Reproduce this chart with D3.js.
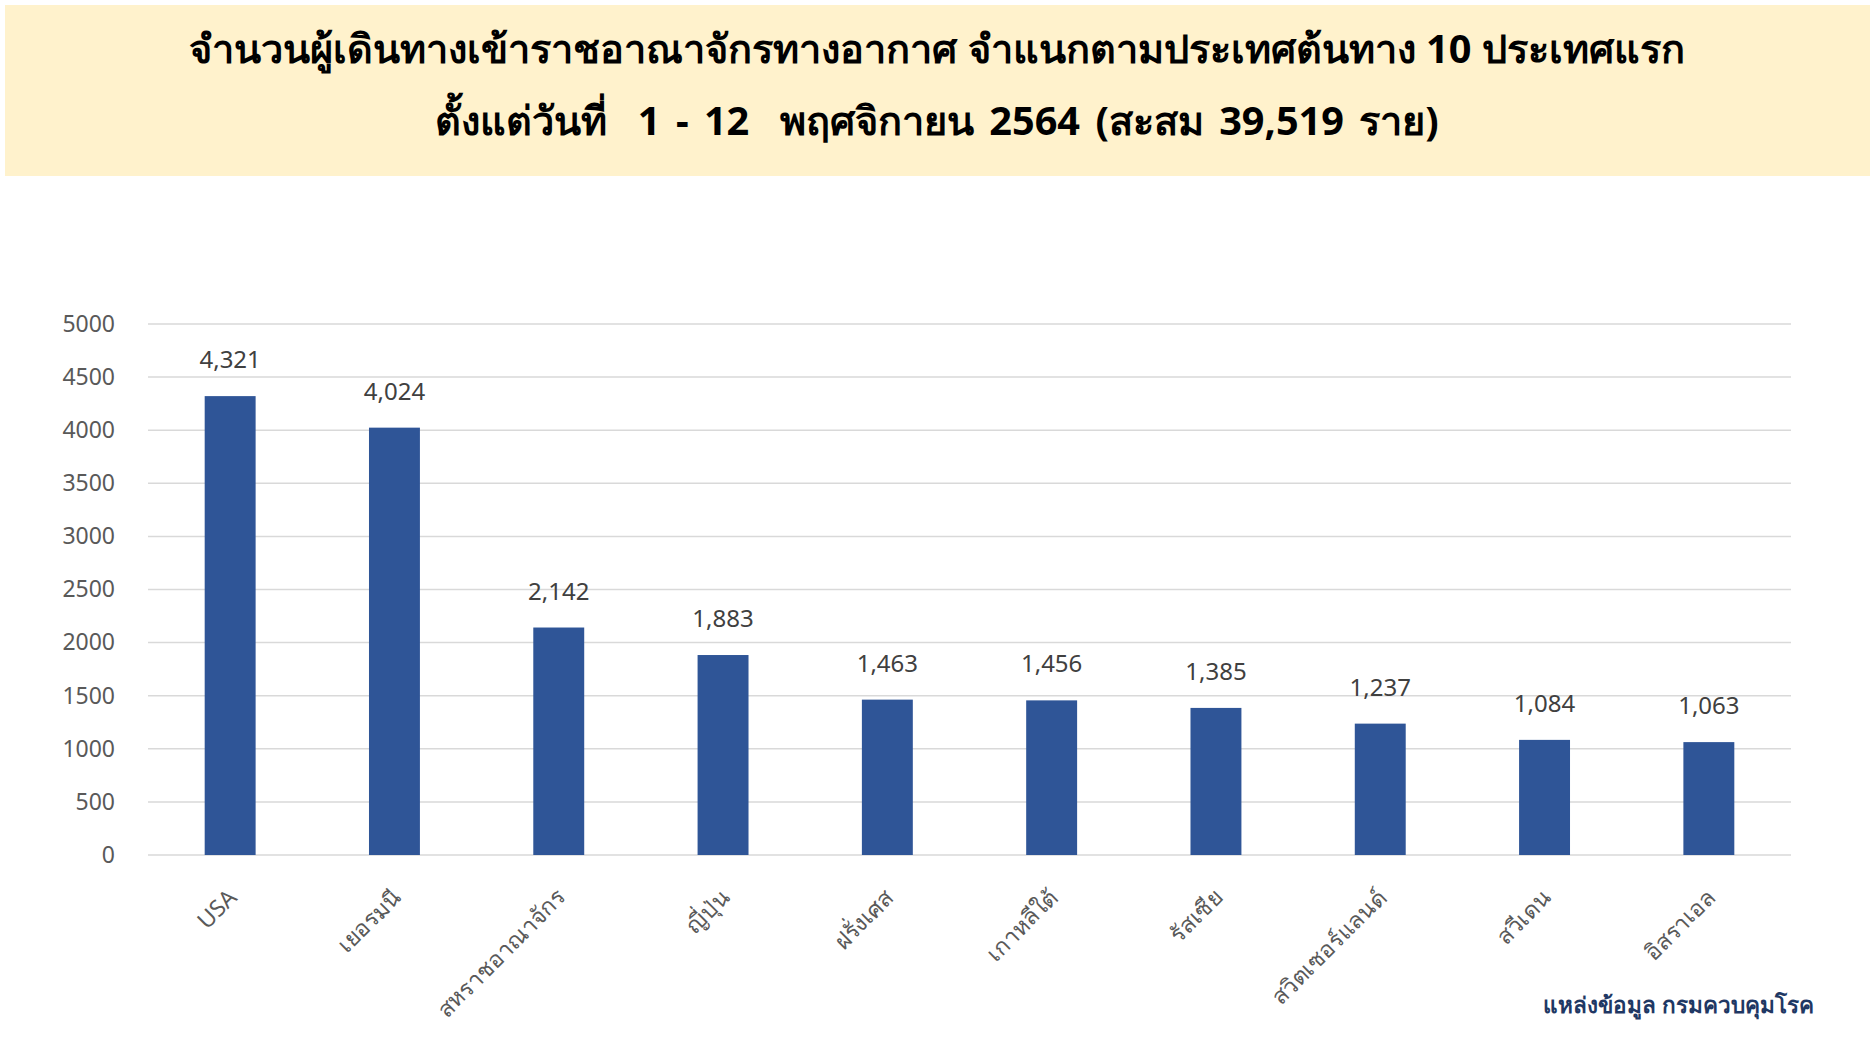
<!DOCTYPE html>
<html>
<head>
<meta charset="utf-8">
<script src="https://cdn.jsdelivr.net/npm/d3@7"></script>
<style>
  body { margin: 0; background: #fff; }
  text { font-family: "Noto Sans", "DejaVu Sans", sans-serif; white-space: pre; }
</style>
</head>
<body>
<svg id="chart" width="1875" height="1055"></svg>
<script>
// data
var countries = ["USA", "เยอรมนี", "สหราชอาณาจักร", "ญี่ปุ่น", "ฝรั่งเศส",
                 "เกาหลีใต้", "รัสเซีย", "สวิตเซอร์แลนด์", "สวีเดน", "อิสราเอล"];
var passengers = [4321, 4024, 2142, 1883, 1463, 1456, 1385, 1237, 1084, 1063];
var yTicks = [0, 500, 1000, 1500, 2000, 2500, 3000, 3500, 4000, 4500, 5000];
var titleLines = ["จำนวนผู้เดินทางเข้าราชอาณาจักรทางอากาศ จำแนกตามประเทศต้นทาง 10 ประเทศแรก",
                  "ตั้งแต่วันที่  1 - 12  พฤศจิกายน 2564 (สะสม 39,519 ราย)"];
var source = "แหล่งข้อมูล กรมควบคุมโรค";

var svg = d3.select("#chart");

// header band
svg.append("rect")
    .attr("x", 5).attr("y", 5)
    .attr("width", 1865).attr("height", 171)
    .attr("fill", "#fff2cc");

svg.selectAll(".title")
    .data(titleLines)
    .enter()
    .append("text")
    .attr("class", "title")
    .attr("x", 937)
    .attr("y", function(d, i) { return 63 + i * 72; })
    .attr("text-anchor", "middle")
    .attr("font-size", 39.7)
    .attr("font-weight", "bold")
    .attr("word-spacing", function(d, i) { return i ? 5 : 0; })
    .attr("fill", "#000")
    .text(function(d) { return d; });

var plotLeft = 148, plotRight = 1791, plotTop = 324, plotBottom = 855;

var x = d3.scaleBand()
    .domain(countries)
    .range([plotLeft, plotRight])
    .paddingInner(0.69)
    .paddingOuter(0.345);

var y = d3.scaleLinear()
    .domain([0, 5000])
    .range([plotBottom, plotTop]);

// gridlines
svg.append("g")
    .selectAll("line")
    .data(yTicks)
    .enter()
    .append("line")
    .attr("x1", plotLeft).attr("x2", plotRight)
    .attr("y1", function(d) { return y(d); })
    .attr("y2", function(d) { return y(d); })
    .attr("stroke", "#d9d9d9")
    .attr("stroke-width", 1.5);

// y axis labels
var yAxis = d3.axisLeft(y).tickValues(yTicks).tickSize(0).tickPadding(0).tickFormat(d3.format("d"));
var gy = svg.append("g")
    .attr("transform", "translate(115,0)")
    .call(yAxis);
gy.select(".domain").remove();
gy.selectAll("text")
    .attr("font-size", 23)
    .attr("fill", "#595959")
    .attr("font-family", "'Noto Sans', sans-serif");

// bars
svg.selectAll(".bar")
    .data(passengers)
    .enter()
    .append("rect")
    .attr("class", "bar")
    .attr("x", function(d, i) { return x(countries[i]); })
    .attr("y", function(d) { return y(d); })
    .attr("width", x.bandwidth())
    .attr("height", function(d) { return plotBottom - y(d); })
    .attr("fill", "#2f5597");

// value labels
svg.selectAll(".val")
    .data(passengers)
    .enter()
    .append("text")
    .attr("class", "val")
    .attr("x", function(d, i) { return x(countries[i]) + x.bandwidth() / 2; })
    .attr("y", function(d) { return y(d) - 28; })
    .attr("text-anchor", "middle")
    .attr("font-size", 24)
    .attr("fill", "#404040")
    .text(function(d) { return d3.format(",")(d); });

// x labels
svg.selectAll(".xlab")
    .data(countries)
    .enter()
    .append("text")
    .attr("class", "xlab")
    .attr("transform", function(d) {
        return "translate(" + (x(d) + x.bandwidth() / 2 + 8) + "," + 899 + ") rotate(-45)";
    })
    .attr("text-anchor", "end")
    .attr("font-size", 23)
    .attr("fill", "#595959")
    .text(function(d) { return d; });

// source
svg.append("text")
    .attr("x", 1814)
    .attr("y", 1013)
    .attr("text-anchor", "end")
    .attr("font-size", 22.5)
    .attr("font-weight", "bold")
    .attr("fill", "#1f3864")
    .text(source);
</script>
</body>
</html>
